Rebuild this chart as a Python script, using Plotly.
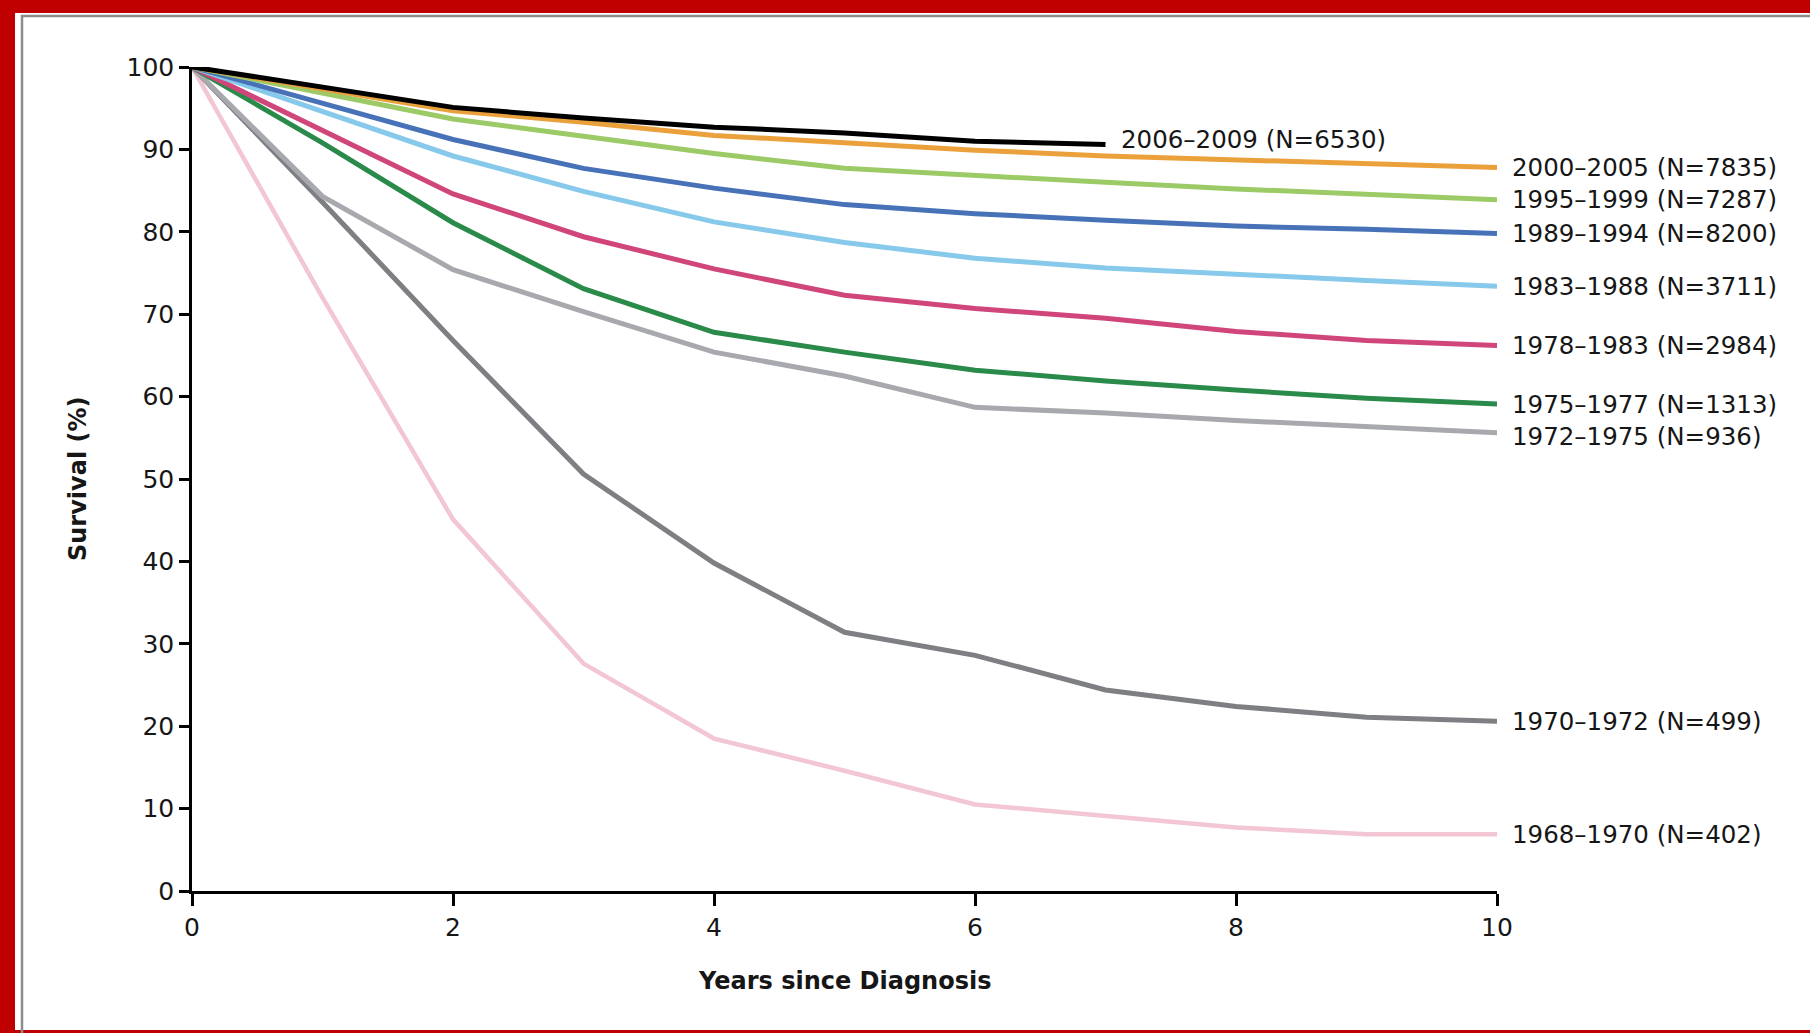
import plotly.graph_objects as go

# ---------------- data ----------------
years = [0, 1, 2, 3, 4, 5, 6, 7, 8, 9, 10]
years_2006 = [0, 1, 2, 3, 4, 5, 6, 7]

periods = ["1968–1970", "1970–1972", "1972–1975", "1975–1977", "1978–1983",
           "1983–1988", "1989–1994", "1995–1999", "2000–2005", "2006–2009"]
n_patients = [402, 499, 936, 1313, 2984, 3711, 8200, 7287, 7835, 6530]

surv_1968_1970 = [100, 72.0, 45.1, 27.6, 18.5, 14.6, 10.5, 9.1, 7.7, 6.9, 6.9]
surv_1970_1972 = [100, 83.6, 66.8, 50.6, 39.8, 31.4, 28.6, 24.4, 22.4, 21.1, 20.6]
surv_1972_1975 = [100, 84.3, 75.4, 70.3, 65.4, 62.5, 58.7, 58.0, 57.1, 56.4, 55.6]
surv_1975_1977 = [100, 90.8, 81.1, 73.1, 67.8, 65.4, 63.2, 61.9, 60.8, 59.8, 59.1]
surv_1978_1983 = [100, 92.3, 84.6, 79.4, 75.5, 72.3, 70.7, 69.5, 67.9, 66.8, 66.2]
surv_1983_1988 = [100, 94.6, 89.2, 84.9, 81.2, 78.7, 76.8, 75.6, 74.8, 74.1, 73.4]
surv_1989_1994 = [100, 95.6, 91.2, 87.7, 85.3, 83.3, 82.2, 81.4, 80.7, 80.3, 79.8]
surv_1995_1999 = [100, 96.8, 93.7, 91.6, 89.5, 87.7, 86.8, 86.0, 85.2, 84.6, 83.9]
surv_2000_2005 = [100, 97.3, 94.7, 93.3, 91.7, 90.8, 89.9, 89.2, 88.7, 88.2, 87.8]
surv_2006_2009 = [100, 97.5, 95.1, 93.8, 92.7, 92.0, 91.0, 90.6]

x_ticks = [0, 2, 4, 6, 8, 10]
y_ticks = [0, 10, 20, 30, 40, 50, 60, 70, 80, 90, 100]

series = [
    (surv_1968_1970, years),
    (surv_1970_1972, years),
    (surv_1972_1975, years),
    (surv_1975_1977, years),
    (surv_1978_1983, years),
    (surv_1983_1988, years),
    (surv_1989_1994, years),
    (surv_1995_1999, years),
    (surv_2000_2005, years),
    (surv_2006_2009, years_2006),
]

# ---------------- styles ----------------
colors = ["#F2C6D2", "#7E7F83", "#A8A9AE", "#2A8A4A", "#D0457A",
          "#86C9EA", "#4872B8", "#9CCA66", "#EBA13B", "#000000"]
widths = [4.5, 5, 5, 5, 5, 5, 5, 5, 5, 5]
label_yshift = [0, 0, -4, 0, 0, 0, 0, 0, 0, 5]

W, H = 1810, 1033
L, R, T, B = 192, 313, 67, 142
PW, PH = W - L - R, H - T - B


def px(xp):
    return (xp - L) / PW


def py(yp):
    return (H - B - yp) / PH


FONT = "DejaVu Sans, Verdana, sans-serif"
TXT = "#161616"

fig = go.Figure()
for (vals, xs), c, w in zip(series, colors, widths):
    fig.add_trace(go.Scatter(x=xs, y=vals, mode="lines",
                             line=dict(color=c, width=w),
                             hoverinfo="skip", showlegend=False,
                             cliponaxis=False))

annotations = []
for (vals, xs), name, n, ys in zip(series, periods, n_patients, label_yshift):
    annotations.append(dict(
        x=xs[-1], y=vals[-1], xref="x", yref="y",
        text=f"{name} (N={n})", showarrow=False,
        xanchor="left", yanchor="middle", xshift=13, yshift=ys,
        font=dict(family=FONT, size=24.5, color=TXT)))

annotations.append(dict(
    x=0.5, y=py(981), xref="paper", yref="paper",
    text="<b>Years since Diagnosis</b>", showarrow=False,
    xanchor="center", yanchor="middle",
    font=dict(family=FONT, size=24, color=TXT)))
annotations.append(dict(
    x=px(78), y=0.5, xref="paper", yref="paper",
    text="<b>Survival (%)</b>", showarrow=False, textangle=-90,
    xanchor="center", yanchor="middle",
    font=dict(family=FONT, size=24, color=TXT)))

shapes = [
    # white page inside red frame
    dict(type="rect", xref="paper", yref="paper", layer="below",
         x0=px(15), x1=px(1830), y0=py(1030), y1=py(13),
         fillcolor="white", line=dict(width=0)),
    # thin gray inner frame
    dict(type="rect", xref="paper", yref="paper", layer="below",
         x0=px(22), x1=px(1840), y0=py(1060), y1=py(16),
         fillcolor="rgba(0,0,0,0)", line=dict(color="#8C8C8C", width=2.5)),
]

fig.update_layout(
    width=W, height=H,
    margin=dict(l=L, r=R, t=T, b=B, pad=0),
    paper_bgcolor="#C00000",
    plot_bgcolor="rgba(0,0,0,0)",
    font=dict(family=FONT, size=25, color=TXT),
    annotations=annotations,
    shapes=shapes,
    xaxis=dict(range=[0, 10], tickvals=x_ticks, ticks="outside", ticklen=12,
               tickwidth=2.5, tickcolor="black", showline=True, linecolor="black",
               linewidth=2.5, showgrid=False, zeroline=False,
               tickfont=dict(family=FONT, size=25, color=TXT)),
    yaxis=dict(range=[0, 100], tickvals=y_ticks, ticks="outside", ticklen=10,
               tickwidth=2.5, tickcolor="black", showline=True, linecolor="black",
               linewidth=2.5, showgrid=False, zeroline=False,
               tickfont=dict(family=FONT, size=25, color=TXT)),
)

fig.write_html("out.html",
               config={"displayModeBar": False},
               post_script="document.body.style.margin='0';"
                           "document.body.style.overflow='hidden';")
